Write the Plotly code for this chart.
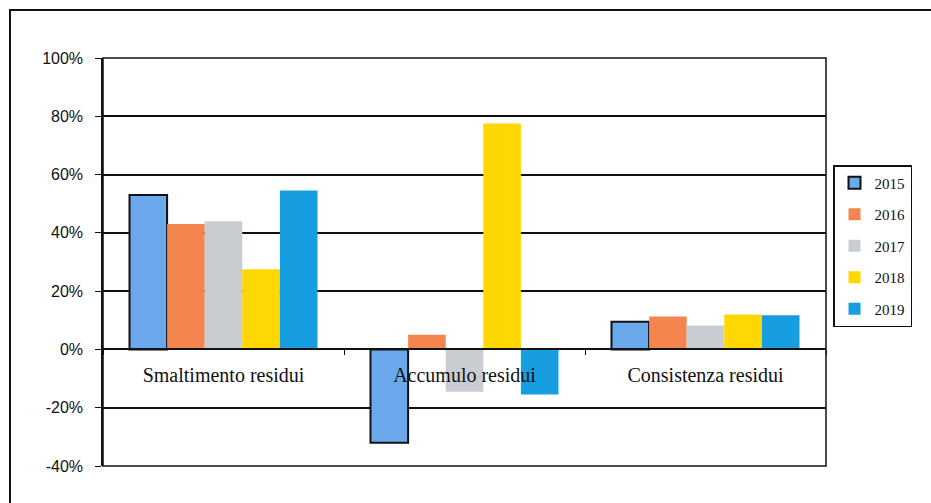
import plotly.graph_objects as go

categories = ["Smaltimento residui", "Accumulo residui", "Consistenza residui"]
years = ["2015", "2016", "2017", "2018", "2019"]
v2015 = [53, -32, 9.5]
v2016 = [43, 5, 11.3]
v2017 = [44, -14.5, 8.2]
v2018 = [27.5, 77.5, 12]
v2019 = [54.5, -15.5, 11.7]
series = [v2015, v2016, v2017, v2018, v2019]
colors = ["#6CA8EC", "#F5854E", "#C9CDD2", "#FFD702", "#169EE0"]
line_w = [2, 0, 0, 0, 0]
y_ticks = [-40, -20, 0, 20, 40, 60, 80, 100]
y_labels = ["-40%", "-20%", "0%", "20%", "40%", "60%", "80%", "100%"]

fig = go.Figure()
for i, (yr, vals) in enumerate(zip(years, series)):
    fig.add_trace(go.Bar(
        x=categories, y=vals, name=yr, legendgroup=yr,
        marker=dict(color=colors[i], line=dict(color="#111", width=line_w[i])),
    ))

L, R, T, B = 103, 105, 58, 37
W, H = 931, 503
pw, ph = W - L - R, H - T - B

fig.update_layout(
    width=W, height=H,
    margin=dict(l=L, r=R, t=T, b=B, pad=0),
    paper_bgcolor="white", plot_bgcolor="white",
    barmode="group", bargap=0.22, bargroupgap=0,
    legend=dict(
        x=(833 - L) / pw, y=(H - B - 165) / ph, xanchor="left", yanchor="top",
        bordercolor="#111", borderwidth=1.5, bgcolor="white",
        font=dict(family="Liberation Serif", size=15, color="#111"),
        tracegroupgap=9, itemwidth=30,
    ),
    xaxis=dict(
        anchor="free", position=40 / 140,
        showline=True, linecolor="#111", linewidth=1.5,
        ticks="outside", tickson="boundaries", ticklen=5, tickcolor="#111",
        ticklabelstandoff=8,
        tickfont=dict(family="Liberation Serif", size=20, color="#111"),
        showgrid=False,
    ),
    yaxis=dict(
        range=[-40, 100], tickvals=y_ticks, ticktext=y_labels,
        showline=True, linecolor="#111", linewidth=1.5,
        ticks="outside", ticklen=6, tickcolor="#111",
        ticklabelstandoff=9,
        showgrid=True, gridcolor="#111", gridwidth=1.5,
        zeroline=True, zerolinecolor="#111", zerolinewidth=1.5,
        tickfont=dict(family="Liberation Sans", size=16, color="#111"),
    ),
    shapes=[
        dict(type="rect", xref="paper", yref="paper", x0=0, x1=1, y0=0, y1=1,
             line=dict(color="#111", width=1.5), layer="above"),
        dict(type="rect", xref="paper", yref="paper",
             x0=(10 - L) / pw, x1=(940 - L) / pw,
             y0=(H - B - 515) / ph, y1=(H - B - 10) / ph,
             line=dict(color="#111", width=2)),
    ],
)

fig.write_html("out.html")
